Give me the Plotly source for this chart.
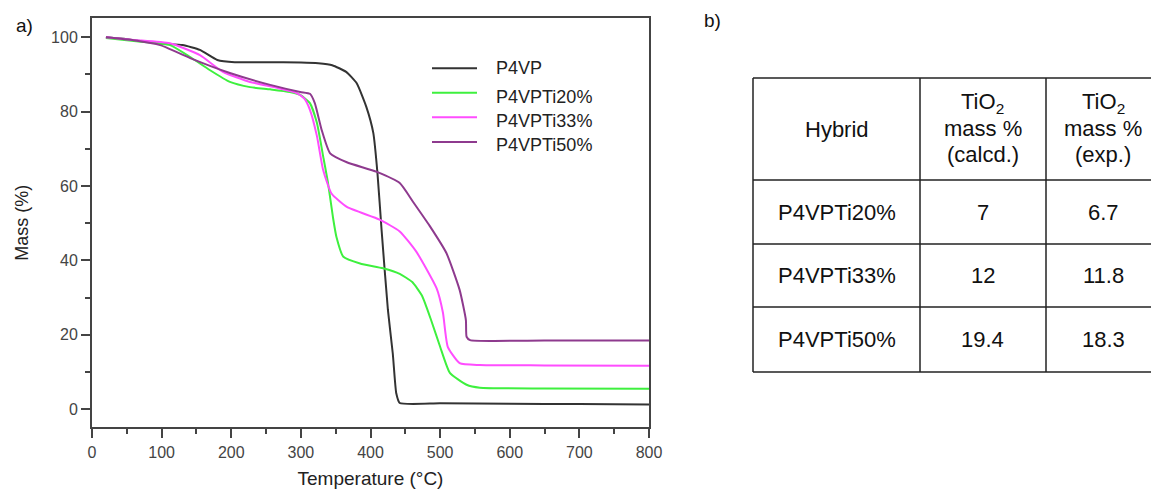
import plotly.graph_objects as go

# ---- TGA data ----
T_p4vp = [20, 50, 100, 130, 155, 180, 205, 250, 300, 325, 345, 365, 380, 394, 404, 410, 416, 425, 432, 437, 442, 500, 600, 700, 800]
m_p4vp = [100, 99.5, 98.3, 97.9, 96.6, 93.9, 93.3, 93.3, 93.2, 93.0, 92.5, 90.7, 87.7, 81.3, 74.3, 63.5, 48, 26.7, 15, 4.3, 1.7, 1.6, 1.5, 1.4, 1.3]

T_20 = [20, 60, 112, 141, 169, 198, 227, 256, 284, 299, 313, 323, 332, 339, 346, 351, 361, 385, 418, 442, 460, 474, 487, 500, 514, 538, 557, 650, 800]
m_20 = [99.8, 99.0, 97.9, 94.7, 91.2, 88, 86.6, 86, 85.3, 84.5, 82.3, 77, 68, 60.8, 51.7, 46.4, 41, 39.2, 37.9, 36.4, 34.2, 30.5, 24.0, 16.8, 9.8, 6.6, 5.8, 5.6, 5.5]

T_33 = [20, 60, 112, 155, 188, 227, 266, 294, 305, 313, 323, 332, 344, 366, 413, 442, 466, 495, 504, 511, 528, 557, 650, 800]
m_33 = [100, 99.3, 98.4, 95.2, 90.7, 88, 86.4, 85, 83.5, 80.5, 73.5, 64.3, 58, 54.4, 51, 47.8, 42.3, 32.5, 26, 16.8, 12.4, 11.9, 11.8, 11.7]

T_50 = [20, 60, 98, 141, 198, 256, 299, 313, 320, 330, 342, 366, 409, 442, 461, 485, 509, 528, 537, 538, 543, 650, 800]
m_50 = [100, 99.2, 97.9, 94.4, 90.4, 87.2, 85.3, 84.8, 82.3, 75, 68.8, 66.4, 63.8, 60.8, 55.8, 49.3, 42, 32.1, 24, 19.5, 18.6, 18.5, 18.5]

series_names = ["P4VP", "P4VPTi20%", "P4VPTi33%", "P4VPTi50%"]
series_colors = ["#333333", "#3ef03e", "#ff4dff", "#8e3a8e"]

# ---- table data ----
header_lines = [["Hybrid"], ["TiO<sub>2</sub>", "mass %", "(calcd.)"], ["TiO<sub>2</sub>", "mass %", "(exp.)"]]
hybrids = ["P4VPTi20%", "P4VPTi33%", "P4VPTi50%"]
calcd = ["7", "12", "19.4"]
exp_vals = ["6.7", "11.8", "18.3"]

W, H = 1151, 489
FONT = "Liberation Sans, Arial, sans-serif"

fig = go.Figure()
for name, col, xs, ys in zip(series_names, series_colors,
                             [T_p4vp, T_20, T_33, T_50], [m_p4vp, m_20, m_33, m_50]):
    fig.add_trace(go.Scatter(x=xs, y=ys, name=name, mode="lines", showlegend=False,
                             line=dict(color=col, width=2, shape="spline", smoothing=0.5)))

def px(x):
    return x / W

def py(y):
    return 1 - y / H

axis_common = dict(showline=True, linecolor="#444", linewidth=2, mirror=True,
                   ticks="outside", tickcolor="#444", tickwidth=1.5, ticklen=9,
                   showgrid=False, zeroline=False, automargin=False,
                   tickfont=dict(family=FONT, size=16, color="#444"))

fig.update_layout(
    width=W, height=H,
    margin=dict(l=0, r=0, t=0, b=0),
    paper_bgcolor="white", plot_bgcolor="white",
    xaxis=dict(domain=[px(92), px(649)], range=[0, 800], dtick=100,
               minor=dict(ticks="outside", dtick=50, ticklen=5, tickcolor="#444", tickwidth=1.5),
               title=dict(text="Temperature (°C)", font=dict(family=FONT, size=19, color="#222"), standoff=13),
               **axis_common),
    yaxis=dict(domain=[py(427.3), py(18.3)], range=[-4.84, 105.1], dtick=20,
               minor=dict(ticks="outside", dtick=10, ticklen=5, tickcolor="#444", tickwidth=1.5),
               title=dict(text="Mass (%)", font=dict(family=FONT, size=18, color="#222"), standoff=18),
               **axis_common),
    showlegend=False,
)

# ---- legend (drawn as sample lines + labels) ----
leg_line_y = [68.3, 92.7, 117.3, 142]
leg_text_y = [68, 96.5, 120.5, 145]
for name, col, ly, ty in zip(series_names, series_colors, leg_line_y, leg_text_y):
    fig.add_shape(type="line", xref="paper", yref="paper",
                  x0=px(432), x1=px(477), y0=py(ly), y1=py(ly),
                  line=dict(color=col, width=2))
    fig.add_annotation(text=name, x=px(494), y=py(ty), xref="paper", yref="paper",
                       xanchor="left", yanchor="middle", showarrow=False,
                       font=dict(family=FONT, size=18, color="#222"))

# panel labels
fig.add_annotation(text="a)", x=px(14), y=py(26), xref="paper", yref="paper",
                   xanchor="left", yanchor="middle", showarrow=False,
                   font=dict(family=FONT, size=19, color="#111"))
fig.add_annotation(text="b)", x=px(702), y=py(21), xref="paper", yref="paper",
                   xanchor="left", yanchor="middle", showarrow=False,
                   font=dict(family=FONT, size=19, color="#111"))

# ---- table drawn with shapes and text ----
col_edges = [753, 920, 1046, 1160]
row_edges = [78, 180, 244, 307, 372]
for yv in row_edges:
    fig.add_shape(type="line", xref="paper", yref="paper",
                  x0=px(col_edges[0]), x1=px(col_edges[-1]), y0=py(yv), y1=py(yv),
                  line=dict(color="#222", width=1.5))
for xv in col_edges[:-1]:
    fig.add_shape(type="line", xref="paper", yref="paper",
                  x0=px(xv), x1=px(xv), y0=py(row_edges[0]), y1=py(row_edges[-1]),
                  line=dict(color="#222", width=1.5))

tfont = dict(family=FONT, size=22, color="#111")
header_line_y = {1: [129], 3: [103, 128.5, 154]}
for ci, lines in enumerate(header_lines):
    xc = (col_edges[ci] + col_edges[ci + 1]) / 2
    for txt, yc in zip(lines, header_line_y[len(lines)]):
        fig.add_annotation(text=txt, x=px(xc), y=py(yc), xref="paper", yref="paper",
                           xanchor="center", yanchor="middle", showarrow=False,
                           font=tfont)

body_rows = [[h, c, e] for h, c, e in zip(hybrids, calcd, exp_vals)]
for ri, row in enumerate(body_rows):
    yc = (row_edges[ri + 1] + row_edges[ri + 2]) / 2
    for ci, txt in enumerate(row):
        xc = (col_edges[ci] + col_edges[ci + 1]) / 2
        fig.add_annotation(text=txt, x=px(xc), y=py(yc), xref="paper", yref="paper",
                           xanchor="center", yanchor="middle", showarrow=False,
                           font=tfont)

fig.write_html("out.html")
